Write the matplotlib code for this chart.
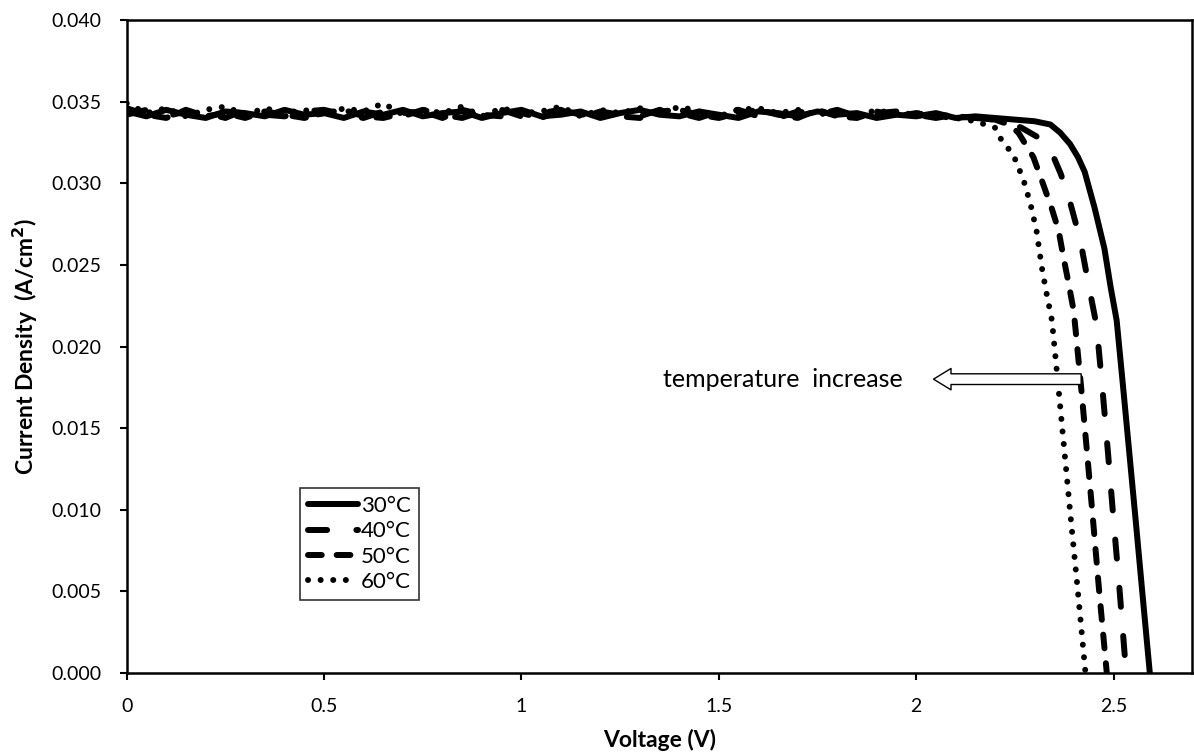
import matplotlib
matplotlib.use("Agg")
import matplotlib.pyplot as plt

plt.rcParams['font.family'] = ['Lato', 'DejaVu Sans']

# Voltage grid of the flat (short-circuit) region, shared by all series
v_flat = [0.00, 0.05, 0.10, 0.15, 0.20, 0.25, 0.30, 0.35, 0.40, 0.45,
          0.50, 0.55, 0.60, 0.65, 0.70, 0.75, 0.80, 0.85, 0.90, 0.95,
          1.00, 1.05, 1.10, 1.15, 1.20, 1.25, 1.30, 1.35, 1.40, 1.45,
          1.50, 1.55, 1.60, 1.65, 1.70, 1.75, 1.80, 1.85, 1.90, 1.95,
          2.00, 2.05, 2.10, 2.15, 2.20]

j30_flat = [0.0344, 0.0341, 0.0345, 0.0342, 0.0340, 0.0344, 0.0343, 0.0341, 0.0345, 0.0342,
            0.0343, 0.0340, 0.0344, 0.0342, 0.0345, 0.0341, 0.0343, 0.0344, 0.0340, 0.0343,
            0.0345, 0.0341, 0.0342, 0.0344, 0.0340, 0.0343, 0.0345, 0.0342, 0.0341, 0.0344,
            0.0342, 0.0340, 0.0344, 0.0343, 0.0341, 0.0344, 0.0342, 0.0343, 0.0340, 0.0342,
            0.0341, 0.0343, 0.0340, 0.0341, 0.0340]
j40_flat = [0.0342, 0.0345, 0.0341, 0.0344, 0.0343, 0.0340, 0.0345, 0.0342, 0.0341, 0.0344,
            0.0345, 0.0342, 0.0340, 0.0344, 0.0341, 0.0345, 0.0342, 0.0340, 0.0344, 0.0345,
            0.0341, 0.0343, 0.0345, 0.0340, 0.0344, 0.0342, 0.0341, 0.0345, 0.0343, 0.0340,
            0.0344, 0.0345, 0.0341, 0.0340, 0.0344, 0.0342, 0.0345, 0.0341, 0.0343, 0.0344,
            0.0342, 0.0340, 0.0342, 0.0340, 0.0339]
j50_flat = [0.0346, 0.0342, 0.0340, 0.0345, 0.0341, 0.0343, 0.0340, 0.0344, 0.0342, 0.0340,
            0.0343, 0.0345, 0.0341, 0.0340, 0.0343, 0.0344, 0.0340, 0.0345, 0.0342, 0.0341,
            0.0343, 0.0340, 0.0345, 0.0342, 0.0343, 0.0341, 0.0340, 0.0344, 0.0345, 0.0342,
            0.0340, 0.0343, 0.0345, 0.0342, 0.0340, 0.0345, 0.0341, 0.0340, 0.0344, 0.0341,
            0.0343, 0.0342, 0.0341, 0.0340, 0.0339]
j60_flat = [0.0349, 0.0343, 0.0346, 0.0341, 0.0345, 0.0347, 0.0342, 0.0346, 0.0343, 0.0345,
            0.0341, 0.0346, 0.0344, 0.0349, 0.0342, 0.0345, 0.0343, 0.0347, 0.0341, 0.0346,
            0.0343, 0.0344, 0.0347, 0.0341, 0.0345, 0.0343, 0.0346, 0.0342, 0.0347, 0.0344,
            0.0341, 0.0345, 0.0346, 0.0343, 0.0345, 0.0342, 0.0344, 0.0341, 0.0345, 0.0342,
            0.0343, 0.0341, 0.0340, 0.0338, 0.0334]

# Knee / drop-off region of each series
v30_knee = [2.25, 2.30, 2.34, 2.365, 2.39, 2.41, 2.427, 2.452, 2.477, 2.493, 2.508, 2.524, 2.540, 2.556, 2.572, 2.592]
j30_knee = [0.0339, 0.0338, 0.0336, 0.0331, 0.0324, 0.0316, 0.0307, 0.0285, 0.0260, 0.0236, 0.0216, 0.0176, 0.0135, 0.0094, 0.0052, 0.0]

v40_knee = [2.24, 2.267, 2.31, 2.343, 2.366, 2.386, 2.416, 2.436, 2.457, 2.472, 2.486, 2.500, 2.515, 2.532]
j40_knee = [0.0337, 0.0334, 0.0328, 0.0319, 0.0306, 0.0292, 0.0265, 0.0239, 0.0213, 0.0174, 0.0135, 0.0094, 0.0052, 0.0]

v50_knee = [2.235, 2.259, 2.297, 2.318, 2.343, 2.361, 2.373, 2.386, 2.399, 2.404, 2.418, 2.433, 2.448, 2.463, 2.483]
j50_knee = [0.0336, 0.0331, 0.0316, 0.0302, 0.0285, 0.0271, 0.0255, 0.0239, 0.0222, 0.0210, 0.0175, 0.0135, 0.0094, 0.0052, 0.0]

v60_knee = [2.209, 2.247, 2.272, 2.290, 2.305, 2.318, 2.330, 2.344, 2.360, 2.376, 2.392, 2.409, 2.429]
j60_knee = [0.0329, 0.0317, 0.0302, 0.0287, 0.0271, 0.0249, 0.0233, 0.0216, 0.0176, 0.0135, 0.0094, 0.0052, 0.0]

labels = ['30°C', '40°C', '50°C', '60°C']

x_ticks = [0, 0.5, 1, 1.5, 2, 2.5]
x_tick_labels = ['0', '0.5', '1', '1.5', '2', '2.5']
y_ticks = [0.000, 0.005, 0.010, 0.015, 0.020, 0.025, 0.030, 0.035, 0.040]
y_tick_labels = ['0.000', '0.005', '0.010', '0.015', '0.020', '0.025', '0.030', '0.035', '0.040']

fig = plt.figure(figsize=(11.94, 7.56), dpi=100)
ax = fig.add_axes([0.1061, 0.1098, 0.8926, 0.8637])

lw_solid = 4.3
ax.plot(v_flat + v30_knee, j30_flat + j30_knee, color='black', lw=lw_solid,
        solid_capstyle='round', solid_joinstyle='round', label=labels[0])
ax.plot(v_flat + v40_knee, j40_flat + j40_knee, color='black', lw=lw_solid,
        linestyle=(0, (3.2, 4.9)), dash_capstyle='round', label=labels[1])
ax.plot(v_flat + v50_knee, j50_flat + j50_knee, color='black', lw=lw_solid,
        linestyle=(0, (2.3, 2.5)), dash_capstyle='round', label=labels[2])
ax.plot(v_flat + v60_knee, j60_flat + j60_knee, color='black', lw=4.3,
        linestyle=(0, (0.01, 2.1)), dash_capstyle='round', label=labels[3])

ax.set_xlim(0, 2.7)
ax.set_ylim(0, 0.040)
ax.set_xticks(x_ticks)
ax.set_xticklabels(x_tick_labels)
ax.set_yticks(y_ticks)
ax.set_yticklabels(y_tick_labels)
ax.tick_params(axis='both', direction='out', length=5, width=1.5, labelsize=14, colors='black')
ax.tick_params(axis='y', pad=13)
ax.tick_params(axis='x', pad=13)
for s in ax.spines.values():
    s.set_linewidth(1.8)
    s.set_color('black')

ax.set_xlabel('Voltage (V)', fontsize=16.5, fontweight='bold', labelpad=10)
ax.set_ylabel('Current Density  (A/cm$^\\mathbf{2}$)', fontsize=16.5, fontweight='bold', labelpad=8)

ax.text(1.663, 0.0180, 'temperature  increase', fontsize=18, ha='center', va='center')
ax.annotate('', xy=(2.044, 0.0180), xytext=(2.418, 0.0180),
            arrowprops=dict(arrowstyle='simple,head_width=1.1,head_length=0.9,tail_width=0.55',
                            fc='white', ec='black', lw=1.0, shrinkA=0, shrinkB=0,
                            mutation_scale=14))

leg = ax.legend(loc='upper left', bbox_to_anchor=(0.1626, 0.283), frameon=True,
                fancybox=False, edgecolor='black', fontsize=16, handlelength=2.25,
                handletextpad=0.15, borderpad=0.35, labelspacing=0.24, borderaxespad=0)
leg.get_frame().set_linewidth(1.2)

fig.savefig('out.png', dpi=100)
